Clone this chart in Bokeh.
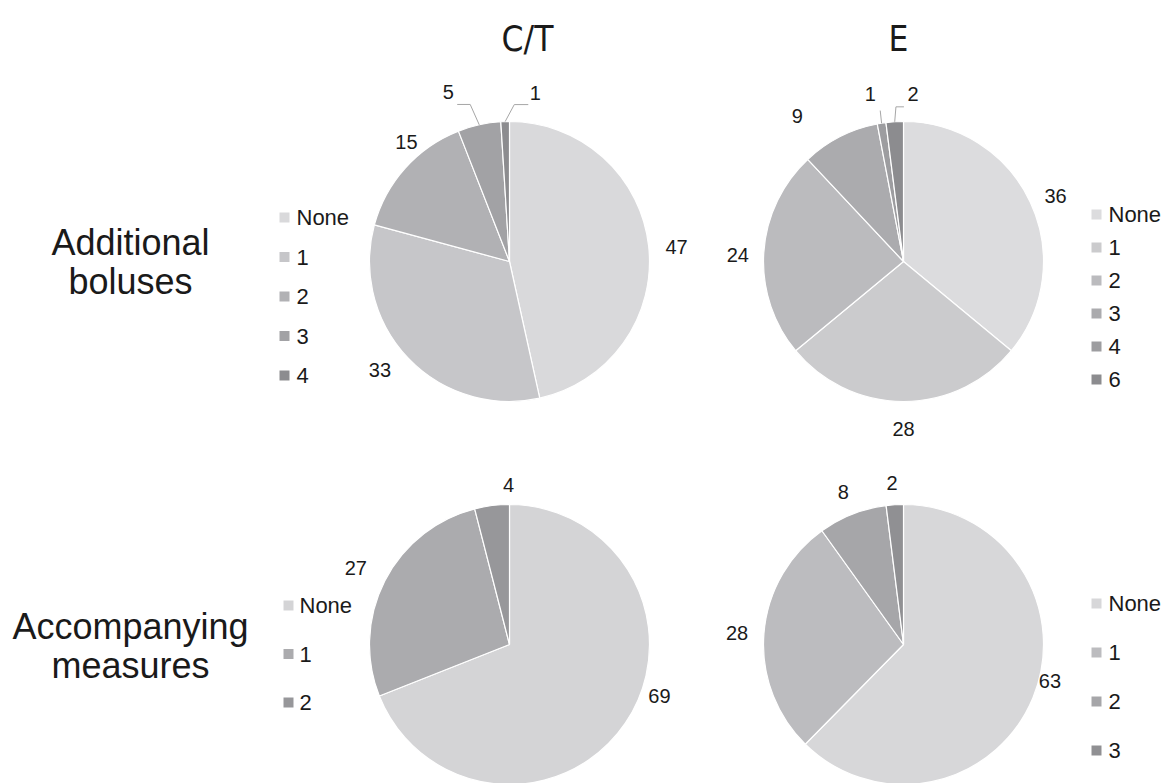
import math
from bokeh.plotting import figure
from bokeh.models import Range1d, ColumnDataSource
from bokeh.core.properties import value
from bokeh.embed import file_html
from bokeh.resources import INLINE

# ---------------- data ----------------
column_titles = ["C/T", "E"]
row_titles = [["Additional", "boluses"], ["Accompanying", "measures"]]

add_ct_categories = ["None", "1", "2", "3", "4"]
add_ct_values = [47, 33, 15, 5, 1]

add_e_categories = ["None", "1", "2", "3", "4", "6"]
add_e_values = [36, 28, 24, 9, 1, 2]

acc_ct_categories = ["None", "1", "2"]
acc_ct_values = [69, 27, 4]

acc_e_categories = ["None", "1", "2", "3"]
acc_e_values = [63, 28, 8, 2]

# ---------------- styling / layout ----------------
W, H = 1171, 783
FONT = "Liberation Sans"
TXT = "#1a1a1a"
R = 140

pies = [
    dict(cats=add_ct_categories, vals=add_ct_values, c=(509, 261),
         colors=["#d9d9db", "#c6c6c9", "#b1b1b4", "#a2a2a5", "#8c8c8f"],
         legend=dict(sx=284, tx=296, y0=217, dy=39.5),
         offs=[(0, 4), (-8, -7), (22, -7), (-25, -5), (31, -1)],
         leaders={3: [(22, 12), (9, 12)], 4: [(-21, 12), (-7, 12)]}),
    dict(cats=add_e_categories, vals=add_e_values, c=(903, 261),
         colors=["#dcdcde", "#cbcbcd", "#bbbbbe", "#ababae", "#9d9da0", "#8c8c8f"],
         legend=dict(sx=1096, tx=1108, y0=214, dy=33),
         offs=[(0, 6), (0, -1), (2, 4), (-30, 4), (-7, -2), (20, 0)],
         leaders={4: [(10, 17)], 5: [(-17, 13), (-9, 13)]}),
    dict(cats=acc_ct_categories, vals=acc_ct_values, c=(509, 644),
         colors=["#d4d4d6", "#ababae", "#97979a"],
         legend=dict(sx=288, tx=299, y0=605, dy=48.5),
         offs=[(11, -43), (-4, 0), (20, 7)],
         leaders={}),
    dict(cats=acc_e_categories, vals=acc_e_values, c=(903, 644),
         colors=["#d7d7d9", "#bcbcbf", "#a6a6a9", "#909093"],
         legend=dict(sx=1096, tx=1108, y0=603, dy=49),
         offs=[(-9, -27), (1, 2), (1, 4), (-1, 6)],
         leaders={}),
]

p = figure(width=W, height=H,
           x_range=Range1d(0, W), y_range=Range1d(-H, 0),
           output_backend="svg", toolbar_location=None,
           x_axis_location=None, y_axis_location=None, min_border=0)
p.grid.visible = False
p.outline_line_color = None
p.background_fill_color = "white"
p.border_fill_color = "white"


def draw_pie(cfg):
    cats, vals, colors = cfg["cats"], cfg["vals"], cfg["colors"]
    cx, cy = cfg["c"]
    total = float(sum(vals))
    starts, ends, mids = [], [], []
    cum = 0.0
    for v in vals:
        a0 = 2 * math.pi * cum / total
        cum += v
        a1 = 2 * math.pi * cum / total
        starts.append(math.pi / 2 - a0)
        ends.append(math.pi / 2 - a1)
        mids.append((a0 + a1) / 2)
    src = ColumnDataSource(dict(start=starts, end=ends, color=colors[:len(vals)]))
    p.wedge(x=cx, y=-cy, radius=R, start_angle="start", end_angle="end",
            direction="clock", fill_color="color", line_color="white",
            line_width=1.2, source=src)

    # data labels
    lx, ly, lt = [], [], []
    for i, (v, th) in enumerate(zip(vals, mids)):
        dx, dy = cfg["offs"][i]
        x = cx + (R + 28) * math.sin(th) + dx
        y = cy - (R + 28) * math.cos(th) + dy
        lx.append(x)
        ly.append(-y)
        lt.append(str(v))
        if i in cfg["leaders"]:
            ex = cx + R * math.sin(th)
            ey = cy - R * math.cos(th)
            xs = [ex] + [x + ox for ox, oy in cfg["leaders"][i]]
            ys = [-ey] + [-(y + oy) for ox, oy in cfg["leaders"][i]]
            p.line(xs, ys, line_color="#a6a6a6", line_width=1)
    p.text(x=lx, y=ly, text=lt, text_font=value(FONT), text_font_size="20px",
           text_align="center", text_baseline="middle", text_color=TXT)

    # legend
    lg = cfg["legend"]
    ys = [-(lg["y0"] + k * lg["dy"]) for k in range(len(cats))]
    p.rect(x=[lg["sx"]] * len(cats), y=ys, width=10, height=10,
           fill_color=colors[:len(cats)], line_color=None)
    p.text(x=[lg["tx"]] * len(cats), y=ys, text=cats, text_font=value(FONT),
           text_font_size="22px", text_align="left", text_baseline="middle",
           text_color=TXT)


for cfg in pies:
    draw_pie(cfg)

# column headers
p.text(x=[527, 898], y=[-38, -38], text=column_titles,
       text_font=value("Liberation Sans Narrow, DejaVu Sans Condensed, Liberation Sans"),
       text_font_size="35px", text_align="center", text_baseline="middle",
       text_color=TXT)

# row titles
row_mid = [(242, 281), (626, 665)]
rx, ry, rt = [], [], []
for lines, mids_y in zip(row_titles, row_mid):
    for t, m in zip(lines, mids_y):
        rx.append(130)
        ry.append(-m)
        rt.append(t)
p.text(x=rx, y=ry, text=rt, text_font=value(FONT), text_font_size="36px",
       text_align="center", text_baseline="middle", text_color=TXT)

open("out.html", "w").write(file_html(p, INLINE))
